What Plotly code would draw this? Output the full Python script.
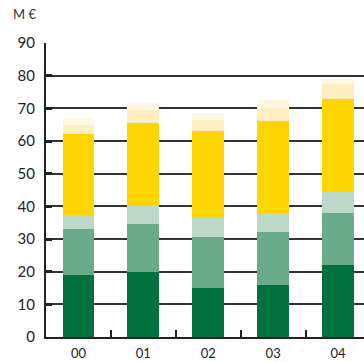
import plotly.graph_objects as go

# Years on the category axis
years = ["00", "01", "02", "03", "04"]

# Stacked segments, bottom to top (M€)
seg_dark_green = [19, 20, 15, 16, 22]
seg_mid_green = [14, 14.5, 15.5, 16, 16]
seg_light_green = [4.5, 5.5, 6, 6, 6.5]
seg_yellow = [24.5, 25.5, 26.5, 28, 28.5]
seg_cream = [3, 4, 3.5, 4, 4.5]
seg_pale = [2, 2, 2, 2.5, 1.5]

y_ticks = [0, 10, 20, 30, 40, 50, 60, 70, 80, 90]

series = [
    (seg_dark_green, "#00713f"),
    (seg_mid_green, "#69ab8b"),
    (seg_light_green, "#bcd8c9"),
    (seg_yellow, "#ffd400"),
    (seg_cream, "#ffefc0"),
    (seg_pale, "#fff7e4"),
]

fig = go.Figure()
for vals, col in series:
    fig.add_trace(go.Bar(
        x=years, y=vals, marker=dict(color=col, line=dict(width=0)),
        width=0.49, showlegend=False, hoverinfo="skip",
    ))

font_family = "Lato, 'Open Sans', sans-serif"

fig.update_layout(
    barmode="stack",
    width=364, height=362,
    margin=dict(l=46, r=0, t=43, b=25),
    paper_bgcolor="white", plot_bgcolor="white",
    font=dict(family=font_family, color="#222222"),
    xaxis=dict(
        type="category",
        range=[-0.5, 4.4],
        showline=True, linecolor="#222222", linewidth=2,
        ticks="inside", tickson="boundaries", ticklen=7, tickwidth=1.5,
        tickcolor="#222222",
        tickfont=dict(size=13, family=font_family, color="#222222"),
        ticklabelstandoff=3,
        showgrid=False,
    ),
    yaxis=dict(
        range=[0, 90],
        tickvals=y_ticks,
        showline=True, linecolor="#222222", linewidth=2,
        ticks="inside", ticklen=6, tickwidth=2.5, tickcolor="#222222",
        tickfont=dict(size=15, family=font_family, color="#222222"),
        ticklabelstandoff=6,
        showgrid=True, gridcolor="#333333", gridwidth=1.5,
        zeroline=False,
    ),
)

# Unit label sits in pixel space above the axis
fig.add_annotation(
    text="M €", xref="paper", yref="paper",
    x=(11 - 46) / 318, y=1 + 29 / 294, xanchor="left", yanchor="middle",
    showarrow=False, font=dict(size=13, family=font_family, color="#333333"),
)

fig.write_html("out.html")
